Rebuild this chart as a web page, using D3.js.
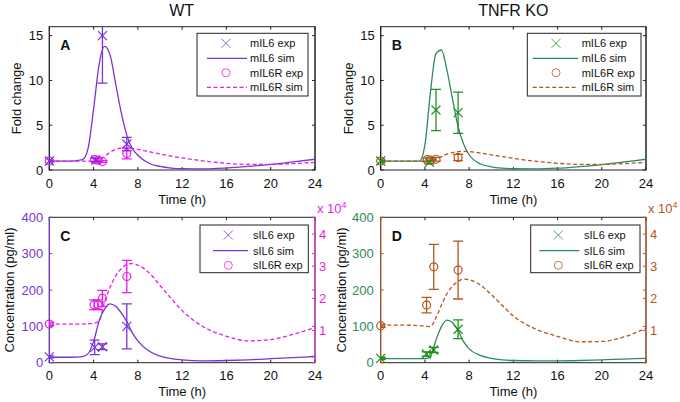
<!DOCTYPE html>
<html><head><meta charset="utf-8">
<script src="https://cdn.jsdelivr.net/npm/d3@7"></script>
<style>html,body{margin:0;padding:0;background:#fff;} svg{display:block;font-family:"Liberation Sans",Arial,sans-serif;}</style>
</head><body><svg id="c" width="680" height="402"></svg>
<script>
// ---------- DATA ----------
const simTime = [0,1,2,3,3.5,4,4.5,5,5.5,6,6.5,7,7.5,8,9,10,11,12,14,16,18,20,22,24];
const xTicks = [0,4,8,12,16,20,24];
const foldTicks = [0,5,10,15];
const concTicks = [0,100,200,300,400];
const rightTicks = [1,2,3,4];

// Panel A (WT, fold change)
const wt_mIL6_sim  = [1,1,1,1.15,2.4,6.8,11.8,13.8,12.8,9.6,6.4,3.9,2.4,1.65,0.75,0.4,0.22,0.15,0.12,0.22,0.4,0.62,0.9,1.2];
const wt_mIL6R_sim = [1,1,1,1,1,1,1.1,1.5,2.0,2.3,2.45,2.45,2.4,2.3,2.05,1.8,1.55,1.35,1.0,0.75,0.62,0.62,0.72,0.85];
const wt_mIL6_expT = [0,4.2,4.8,7];
const wt_mIL6_exp  = [1.0,1.1,15.0,2.9];
const wt_mIL6_err  = [0.1,0.2,5.3,0.75];
const wt_mIL6R_expT = [0,4.1,4.4,4.8,7];
const wt_mIL6R_exp  = [1.0,1.15,1.1,0.95,1.85];
const wt_mIL6R_err  = [0.05,0.2,0.15,0.1,0.6];

// Panel B (TNFR KO, fold change)
const ko_mIL6_sim  = [1,1,1,1,1.0,2.8,8.7,13.0,13.4,11.1,7.9,4.85,2.9,1.7,0.7,0.35,0.2,0.14,0.12,0.2,0.38,0.6,0.9,1.2];
const ko_mIL6R_sim = [1,1,1,1,1,1,1.02,1.2,1.5,1.78,1.95,2.05,2.08,2.05,1.9,1.7,1.5,1.3,0.98,0.75,0.62,0.62,0.72,0.85];
const ko_mIL6_expT = [0,4.4,5.0,7.0];
const ko_mIL6_exp  = [1.0,0.85,6.7,6.4];
const ko_mIL6_err  = [0.1,0.15,2.3,2.3];
const ko_mIL6R_expT = [0,4.2,4.5,5.0,7.0];
const ko_mIL6R_exp  = [1.0,1.15,1.1,1.2,1.4];
const ko_mIL6R_err  = [0.05,0.2,0.15,0.2,0.35];

// Panel C (WT, concentration; sIL6R in units of 1e4)
const wt_sIL6_sim  = [15,15,15,17,25,58,115,148,162,155,137,113,82,60,32,18,11,8,5,6,8,11,14,17];
const wt_sIL6R_sim = [1.2,1.2,1.2,1.2,1.21,1.22,1.3,1.9,2.35,2.7,2.92,3.05,3.08,3.03,2.8,2.4,2.0,1.62,1.1,0.82,0.68,0.72,0.88,1.09];
const wt_sIL6_expT = [0,4.1,4.8,7.0];
const wt_sIL6_exp  = [16,42,44,100];
const wt_sIL6_err  = [3,20,8,62];
const wt_sIL6R_expT = [0,4.05,4.4,4.8,7.0];
const wt_sIL6R_exp  = [1.2,1.8,1.8,2.0,2.68];
const wt_sIL6R_err  = [0.05,0.15,0.15,0.25,0.5];

// Panel D (TNFR KO, concentration)
const ko_sIL6_sim  = [11,11,11,11,11,11,18,62,100,117,110,88,58,38,20,12,8,6,5,5,6,8,10,12];
const ko_sIL6R_sim = [1.17,1.17,1.17,1.16,1.15,1.14,1.12,1.4,1.8,2.15,2.38,2.53,2.6,2.58,2.42,2.12,1.78,1.45,1.05,0.82,0.65,0.66,0.8,1.07];
const ko_sIL6_expT = [0,4.15,4.8,7.0];
const ko_sIL6_exp  = [12,24,35,92];
const ko_sIL6_err  = [3,6,7,26];
const ko_sIL6R_expT = [0,4.15,4.8,7.0];
const ko_sIL6R_exp  = [1.15,1.79,2.98,2.88];
const ko_sIL6R_err  = [0.05,0.24,0.7,0.9];

// ---------- STYLE ----------
const PURPLE = "#7b33d9", MAGENTA = "#e61ee6", TEAL = "#2b8c5a", GREEN = "#1f8f1f", BROWN = "#b4561e";
const FONT = 13;

const svg = d3.select("#c");
let clipId = 0;

function panel(cfg) {
  const b = cfg.box;
  const g = svg.append("g");
  const x = d3.scaleLinear().domain([0,24]).range([b.x0,b.x1]);
  const yL = d3.scaleLinear().domain(cfg.yLeftDomain).range([b.y1,b.y0]);
  const yR = cfg.yRightDomain ? d3.scaleLinear().domain(cfg.yRightDomain).range([b.y1,b.y0]) : null;
  const id = "clip" + (clipId++);
  svg.append("clipPath").attr("id", id).append("rect")
     .attr("x", b.x0).attr("y", b.y0).attr("width", b.x1-b.x0).attr("height", b.y1-b.y0);

  // box
  g.append("rect").attr("x",b.x0).attr("y",b.y0).attr("width",b.x1-b.x0).attr("height",b.y1-b.y0)
    .attr("fill","#fff").attr("stroke","#222").attr("stroke-width",1);

  // x ticks (bottom + top, inward)
  const tl = 3;
  xTicks.forEach(t => {
    g.append("line").attr("x1",x(t)).attr("x2",x(t)).attr("y1",b.y1).attr("y2",b.y1-tl).attr("stroke","#222");
    g.append("line").attr("x1",x(t)).attr("x2",x(t)).attr("y1",b.y0).attr("y2",b.y0+tl).attr("stroke","#222");
    g.append("text").attr("x",x(t)).attr("y",b.y1+17.5).attr("text-anchor","middle")
      .attr("font-size",FONT).attr("fill","#111").text(t);
  });
  // left ticks
  cfg.yLeftTicks.forEach(v => {
    g.append("line").attr("x1",b.x0).attr("x2",b.x0+tl).attr("y1",yL(v)).attr("y2",yL(v)).attr("stroke",cfg.leftAxisColor);
    g.append("line").attr("x1",b.x1).attr("x2",b.x1-tl).attr("y1",yL(v)).attr("y2",yL(v)).attr("stroke",cfg.rightAxisColor);
    g.append("text").attr("x",b.x0-cfg.leftLabelGap).attr("y",yL(v)).attr("dy","0.36em").attr("text-anchor","end")
      .attr("font-size",FONT).attr("fill",cfg.leftTickColor).text(v);
  });
  // colored axis lines
  g.append("line").attr("x1",b.x0).attr("x2",b.x0).attr("y1",b.y0).attr("y2",b.y1).attr("stroke",cfg.leftAxisColor);
  g.append("line").attr("x1",b.x1).attr("x2",b.x1).attr("y1",b.y0).attr("y2",b.y1).attr("stroke",cfg.rightAxisColor);
  if (yR) {
    rightTicks.forEach(v => {
      g.append("line").attr("x1",b.x1).attr("x2",b.x1-tl).attr("y1",yR(v)).attr("y2",yR(v)).attr("stroke",cfg.rightAxisColor);
      g.append("text").attr("x",b.x1+4).attr("y",yR(v)).attr("dy","0.36em").attr("text-anchor","start")
        .attr("font-size",FONT).attr("fill",cfg.rightTickColor).text(v);
    });
    const t = g.append("text").attr("x",b.x1+2).attr("y",b.y0-4.5).attr("font-size",FONT).attr("fill",cfg.rightTickColor);
    t.append("tspan").text("x 10");
    t.append("tspan").attr("dy",-5).attr("font-size",9).text("4");
  }

  // axis labels
  g.append("text").attr("x",(b.x0+b.x1)/2).attr("y",b.y1+33.5).attr("text-anchor","middle")
    .attr("font-size",FONT).attr("fill","#111").text("Time (h)");
  g.append("text").attr("transform",`translate(${cfg.yLabelX},${(b.y0+b.y1)/2}) rotate(-90)`)
    .attr("text-anchor","middle").attr("dy","0.36em").attr("font-size",FONT).attr("fill","#111").text(cfg.yLabel);
  // panel letter
  g.append("text").attr("x",b.x0+11).attr("y",b.y0+23.5).attr("font-size",14).attr("font-weight","bold")
    .attr("fill","#111").text(cfg.letter);

  const plot = g.append("g");
  const clipped = plot.append("g").attr("clip-path",`url(#${id})`);
  // sim lines
  cfg.lines.forEach(s => {
    const ys = s.axis === "right" ? yR : yL;
    const line = d3.line().x((d,i)=>x(simTime[i])).y(d=>ys(d)).curve(d3.curveMonotoneX);
    clipped.append("path").attr("d", line(s.values)).attr("fill","none").attr("stroke",s.color)
      .attr("stroke-width",1.3).attr("stroke-dasharray", s.dash ? "4,2.5" : null);
  });
  // exp points
  cfg.exps.forEach(s => {
    const ys = s.axis === "right" ? yR : yL;
    s.t.forEach((t,i) => {
      const cx = x(t), v = s.v[i], e = s.err[i];
      const top = ys(v+e), bot = ys(v-e);
      clipped.append("line").attr("x1",cx).attr("x2",cx).attr("y1",top).attr("y2",bot).attr("stroke",s.color).attr("stroke-width",1.3);
      [top,bot].forEach(yy => clipped.append("line").attr("x1",cx-5).attr("x2",cx+5).attr("y1",yy).attr("y2",yy)
        .attr("stroke",s.color).attr("stroke-width",1.3));
      drawMarker(plot, s.marker, cx, ys(v), s.color);
    });
  });

  // legend
  const L = cfg.legend;
  g.append("rect").attr("x",L.x0).attr("y",L.y0).attr("width",L.x1-L.x0).attr("height",L.y1-L.y0)
    .attr("fill","#fff").attr("stroke","#222");
  L.items.forEach((it,i) => {
    const yy = L.rows[i];
    if (it.marker) drawMarker(g, it.marker, L.mx, yy, it.color, 0.8);
    else g.append("line").attr("x1",L.lx0).attr("x2",L.lx1).attr("y1",yy).attr("y2",yy)
        .attr("stroke",it.color).attr("stroke-width",1.3).attr("stroke-dasharray", it.dash ? "4,2.5" : null);
    g.append("text").attr("x",L.tx).attr("y",yy).attr("dy","0.36em").attr("font-size",11).attr("fill","#111").text(it.label);
  });
}

function drawMarker(g, type, cx, cy, color, sw) {
  sw = sw || 1.2;
  if (type === "x") {
    const s = 4.5;
    g.append("path").attr("d",`M${cx-s},${cy-s}L${cx+s},${cy+s}M${cx-s},${cy+s}L${cx+s},${cy-s}`)
      .attr("stroke",color).attr("stroke-width",sw).attr("fill","none");
  } else {
    g.append("circle").attr("cx",cx).attr("cy",cy).attr("r",4).attr("fill","none").attr("stroke",color).attr("stroke-width",sw);
  }
}

// titles
svg.append("text").attr("x",181.7).attr("y",16).attr("text-anchor","middle").attr("font-size",16).attr("fill","#111").text("WT");
svg.append("text").attr("x",513.3).attr("y",16).attr("text-anchor","middle").attr("font-size",16).attr("fill","#111").text("TNFR KO");

const rowsTop = [43.3,58.3,72.7,87.3];
const rowsBot = [235,250.7,265.3];

panel({
  box:{x0:49.3,x1:315,y0:26.7,y1:170}, letter:"A",
  yLeftDomain:[0,16], yLeftTicks:foldTicks, leftTickColor:"#111", leftAxisColor:"#222", rightAxisColor:"#222", leftLabelGap:6,
  yLabel:"Fold change", yLabelX:16.7,
  lines:[{values:wt_mIL6_sim,color:PURPLE},{values:wt_mIL6R_sim,color:MAGENTA,dash:true}],
  exps:[{t:wt_mIL6R_expT,v:wt_mIL6R_exp,err:wt_mIL6R_err,color:MAGENTA,marker:"o"},
        {t:wt_mIL6_expT,v:wt_mIL6_exp,err:wt_mIL6_err,color:PURPLE,marker:"x"}],
  legend:{x0:197,x1:308,y0:33.3,y1:96,rows:rowsTop,mx:226,lx0:207,lx1:247,tx:250,
    items:[{label:"mIL6 exp",marker:"x",color:PURPLE},{label:"mIL6 sim",color:PURPLE},
           {label:"mIL6R exp",marker:"o",color:MAGENTA},{label:"mIL6R sim",color:MAGENTA,dash:true}]}
});

panel({
  box:{x0:380.7,x1:646,y0:26.7,y1:170}, letter:"B",
  yLeftDomain:[0,16], yLeftTicks:foldTicks, leftTickColor:"#111", leftAxisColor:"#222", rightAxisColor:"#222", leftLabelGap:6,
  yLabel:"Fold change", yLabelX:348,
  lines:[{values:ko_mIL6_sim,color:TEAL},{values:ko_mIL6R_sim,color:BROWN,dash:true}],
  exps:[{t:ko_mIL6R_expT,v:ko_mIL6R_exp,err:ko_mIL6R_err,color:BROWN,marker:"o"},
        {t:ko_mIL6_expT,v:ko_mIL6_exp,err:ko_mIL6_err,color:GREEN,marker:"x"}],
  legend:{x0:527.3,x1:641,y0:33.3,y1:96,rows:rowsTop,mx:556,lx0:532.7,lx1:578.3,tx:581.7,
    items:[{label:"mIL6 exp",marker:"x",color:GREEN},{label:"mIL6 sim",color:TEAL},
           {label:"mIL6R exp",marker:"o",color:BROWN},{label:"mIL6R sim",color:BROWN,dash:true}]}
});

panel({
  box:{x0:49.3,x1:315,y0:217.3,y1:362.7}, letter:"C",
  yLeftDomain:[0,400], yLeftTicks:concTicks, leftTickColor:PURPLE, leftAxisColor:PURPLE, rightAxisColor:MAGENTA, leftLabelGap:6,
  yRightDomain:[0,4.52], rightTickColor:MAGENTA,
  yLabel:"Concentration (pg/ml)", yLabelX:9,
  lines:[{values:wt_sIL6R_sim,color:MAGENTA,dash:true,axis:"right"},{values:wt_sIL6_sim,color:PURPLE}],
  exps:[{t:wt_sIL6R_expT,v:wt_sIL6R_exp,err:wt_sIL6R_err,color:MAGENTA,marker:"o",axis:"right"},
        {t:wt_sIL6_expT,v:wt_sIL6_exp,err:wt_sIL6_err,color:PURPLE,marker:"x"}],
  legend:{x0:200,x1:308.3,y0:225,y1:272.7,rows:rowsBot,mx:228.3,lx0:213,lx1:248,tx:253,
    items:[{label:"sIL6 exp",marker:"x",color:PURPLE},{label:"sIL6 sim",color:PURPLE},
           {label:"sIL6R exp",marker:"o",color:MAGENTA}]}
});

panel({
  box:{x0:380.7,x1:646,y0:217.3,y1:362.7}, letter:"D",
  yLeftDomain:[0,400], yLeftTicks:concTicks, leftTickColor:TEAL, leftAxisColor:BROWN, rightAxisColor:BROWN, leftLabelGap:7,
  yRightDomain:[0,4.52], rightTickColor:BROWN,
  yLabel:"Concentration (pg/ml)", yLabelX:341,
  lines:[{values:ko_sIL6R_sim,color:BROWN,dash:true,axis:"right"},{values:ko_sIL6_sim,color:TEAL}],
  exps:[{t:ko_sIL6R_expT,v:ko_sIL6R_exp,err:ko_sIL6R_err,color:BROWN,marker:"o",axis:"right"},
        {t:ko_sIL6_expT,v:ko_sIL6_exp,err:ko_sIL6_err,color:GREEN,marker:"x"}],
  legend:{x0:530.7,x1:640,y0:225,y1:272.7,rows:rowsBot,mx:558.3,lx0:539.3,lx1:579.3,tx:584,
    items:[{label:"sIL6 exp",marker:"x",color:TEAL},{label:"sIL6 sim",color:TEAL},
           {label:"sIL6R exp",marker:"o",color:BROWN}]}
});
</script></body></html>
